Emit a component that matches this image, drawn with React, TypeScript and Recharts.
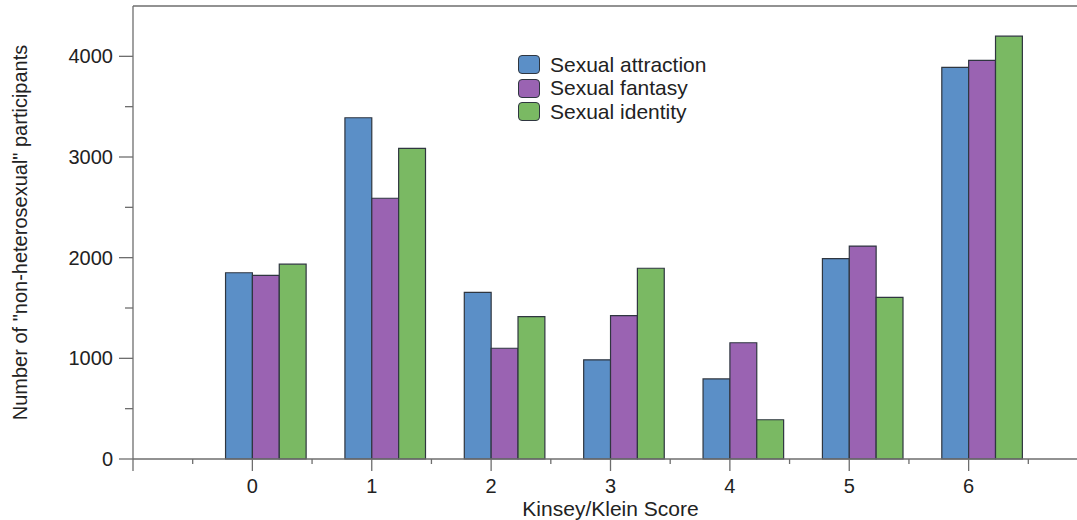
import { BarChart, Bar, XAxis, YAxis, Legend, ReferenceLine } from "recharts";

// Kinsey/Klein scores
const scores = [0, 1, 2, 3, 4, 5, 6];
// leading empty slot in every group (zero-height, not in the legend)
const unlabeled = [0, 0, 0, 0, 0, 0, 0];
const attraction = [1850, 3390, 1655, 985, 795, 1990, 3890];
const fantasy = [1825, 2590, 1100, 1425, 1155, 2115, 3960];
const identity = [1935, 3085, 1415, 1895, 390, 1605, 4200];

const xTicks = [-1, -0.5, 0, 0.5, 1, 1.5, 2, 2.5, 3, 3.5, 4, 4.5, 5, 5.5, 6, 6.5];
const yTicks = [0, 500, 1000, 1500, 2000, 2500, 3000, 3500, 4000];

const series = [
  { key: "attraction", name: "Sexual attraction", color: "#5b8fc7" },
  { key: "fantasy", name: "Sexual fantasy", color: "#9a63b2" },
  { key: "identity", name: "Sexual identity", color: "#7ab963" },
];

const data = scores.map((s, i) => ({
  score: s,
  unlabeled: unlabeled[i],
  attraction: attraction[i],
  fantasy: fantasy[i],
  identity: identity[i],
}));

const FONT = "'Liberation Sans', Arial, Helvetica, sans-serif";
const AXIS = "#6e6e6e";
const TEXT = "#222";

function YTick(props: any) {
  const { x, y, payload } = props;
  const major = payload.value % 1000 === 0;
  return (
    <g>
      <line x1={x - (major ? 14 : 8)} x2={x} y1={y} y2={y} stroke={AXIS} strokeWidth={1.3} />
      {major && (
        <text x={x - 20} y={y} textAnchor="end" dominantBaseline="central" fontSize={20} fill={TEXT} fontFamily={FONT}>
          {payload.value}
        </text>
      )}
    </g>
  );
}

function XTick(props: any) {
  const { x, y, payload } = props;
  const major = Number.isInteger(payload.value);
  return (
    <g>
      <line x1={x} x2={x} y1={y} y2={y + (major ? 12 : 5)} stroke={AXIS} strokeWidth={1.3} />
      {major && payload.value >= 0 && (
        <text x={x} y={y + 27} textAnchor="middle" dominantBaseline="central" fontSize={20} fill={TEXT} fontFamily={FONT}>
          {payload.value}
        </text>
      )}
    </g>
  );
}

function LegendBox() {
  return (
    <div style={{ fontFamily: FONT, fontSize: 21, color: TEXT }}>
      {series.map((s) => (
        <div key={s.key} style={{ display: "flex", alignItems: "center", height: 23.5 }}>
          <span
            style={{
              width: 22,
              height: 19,
              background: s.color,
              border: "1.3px solid #2f3640",
              borderRadius: 4,
              marginRight: 10,
              boxSizing: "border-box",
            }}
          />
          <span>{s.name}</span>
        </div>
      ))}
    </div>
  );
}

export default function App() {
  return (
    <div
      style={{
        position: "fixed",
        left: 0,
        top: 0,
        width: 1077,
        height: 520,
        overflow: "hidden",
        background: "#fff",
      }}
    >
      <BarChart
        width={1100}
        height={520}
        data={data}
        margin={{ top: 6, right: 12, bottom: 0, left: 0 }}
        barGap={0}
        barSize={26.86}
        style={{ fontFamily: FONT }}
      >
        <XAxis
          dataKey="score"
          type="number"
          domain={[-1, 7]}
          ticks={xTicks}
          interval={0}
          height={61}
          tickSize={0}
          tickMargin={0}
          tickLine={false}
          tick={<XTick />}
          axisLine={{ stroke: AXIS, strokeWidth: 1.3 }}
          label={{
            content: (p: any) => {
              const vb = p.viewBox;
              return (
                <text
                  x={vb.x + vb.width / 2}
                  y={vb.y + 49}
                  textAnchor="middle"
                  dominantBaseline="central"
                  fontSize={21}
                  fill={TEXT}
                  fontFamily={FONT}
                >
                  Kinsey/Klein Score
                </text>
              );
            },
          }}
        />
        <YAxis
          type="number"
          domain={[0, 4500]}
          ticks={yTicks}
          interval={0}
          width={133}
          tickSize={0}
          tickMargin={0}
          tickLine={false}
          tick={<YTick />}
          axisLine={{ stroke: AXIS, strokeWidth: 1.3 }}
          label={{
            content: (p: any) => {
              const vb = p.viewBox;
              const cx = vb.x + 20;
              const cy = vb.y + vb.height / 2;
              return (
                <text
                  x={cx}
                  y={cy}
                  transform={`rotate(-90, ${cx}, ${cy})`}
                  textAnchor="middle"
                  dominantBaseline="central"
                  fontSize={20}
                  fill={TEXT}
                  fontFamily={FONT}
                >
                  Number of "non-heterosexual" participants
                </text>
              );
            },
          }}
        />
        <ReferenceLine y={4500} stroke={AXIS} strokeWidth={1.3} />
        <Legend
          layout="vertical"
          verticalAlign="middle"
          align="center"
          content={<LegendBox />}
          wrapperStyle={{ left: 518, top: 53, width: "auto", height: "auto" }}
        />
        <Bar dataKey="unlabeled" legendType="none" fill="#ffffff" stroke="#2f3640" isAnimationActive={false} />
        {series.map((s) => (
          <Bar
            key={s.key}
            dataKey={s.key}
            name={s.name}
            fill={s.color}
            stroke="#2f3640"
            strokeWidth={1.2}
            isAnimationActive={false}
          />
        ))}
      </BarChart>
    </div>
  );
}
